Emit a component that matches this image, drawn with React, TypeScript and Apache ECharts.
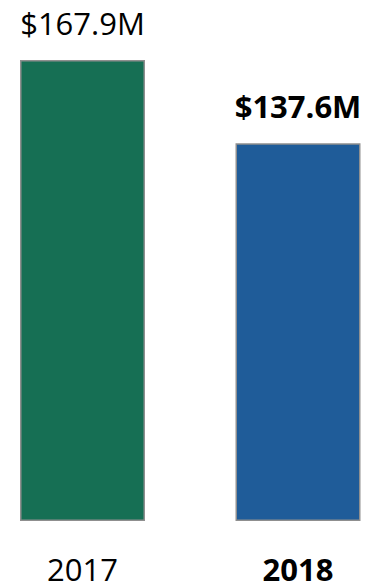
import React, { useEffect, useRef } from "react";
import * as echarts from "echarts";

const categories = ["2017", "2018"];
const values = [167.9, 137.6];
const valueLabels = ["$167.9M", "$137.6M"];
const boldFlags = [false, true];
const colors = ["#166F54", "#1F5C99"];

export default function App() {
  const ref = useRef<HTMLDivElement>(null);
  useEffect(() => {
    if (!ref.current) return;
    const chart = echarts.init(ref.current, undefined, { renderer: "svg" });
    const font = "'Open Sans', 'Noto Sans', sans-serif";
    chart.setOption({
      animation: false,
      grid: { left: 82.5, right: 70, top: 60, bottom: 67 },
      xAxis: {
        type: "category",
        boundaryGap: false,
        data: categories.map((c, i) => ({
          value: c,
          textStyle: { fontWeight: boldFlags[i] ? "bold" : "normal" },
        })),
        axisLine: { show: false },
        axisTick: { show: false },
        axisLabel: { fontSize: 31, color: "#000", fontFamily: font, margin: 32 },
      },
      yAxis: {
        type: "value",
        min: 0,
        max: Math.max(...values),
        show: false,
        splitLine: { show: false },
      },
      series: [
        {
          type: "bar",
          barWidth: 125,
          clip: false,
          data: values.map((v, i) => ({
            value: v,
            itemStyle: { color: colors[i], borderColor: "#8f8f8f", borderWidth: 1.5 },
            label: {
              show: true,
              position: "top",
              distance: 22,
              formatter: valueLabels[i],
              fontSize: 31,
              fontWeight: boldFlags[i] ? "bold" : "normal",
              color: "#000",
              fontFamily: font,
            },
          })),
        },
      ],
    });
    return () => chart.dispose();
  }, []);
  return (
    <div
      ref={ref}
      style={{ position: "fixed", left: 0, top: 0, width: 368, height: 588, background: "#fff" }}
    />
  );
}
